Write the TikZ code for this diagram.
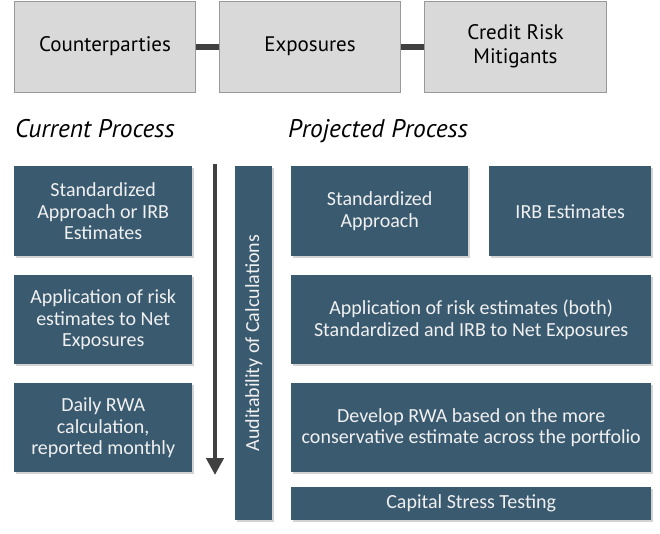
\documentclass[tikz,border=0pt]{standalone}
\usepackage{fontspec}
\setmainfont{Carlito}
\newfontfamily\headfont{PT Sans}
\usetikzlibrary{shadows,arrows.meta}

\definecolor{slate}{RGB}{58,90,112}
\definecolor{boxgray}{RGB}{217,217,217}
\definecolor{darkline}{RGB}{64,64,64}

\tikzset{
	topbox/.style={draw=gray!80,fill=boxgray,line width=1pt,anchor=north west,align=center,inner sep=0pt,font=\headfont\fontsize{21}{24}\selectfont},
	bluebox/.style={fill=slate,text=white!94!black,anchor=north west,align=center,inner sep=0pt,font=\fontsize{20}{21.5}\selectfont,
		drop shadow={shadow xshift=1.5pt,shadow yshift=-1.5pt,opacity=0.35}},
	heading/.style={anchor=base west,inner sep=0pt,font=\headfont\itshape\fontsize{25.5}{28}\selectfont},
	link/.style={darkline,line width=6pt},
	flow/.style={darkline,line width=4.5pt,-{Triangle[length=17pt,width=17pt]}}
}

\begin{document}
\begin{tikzpicture}[x=1pt,y=-1pt]
	\useasboundingbox (0,0) rectangle (660,533);

	\node[topbox,minimum width=181pt,minimum height=91pt] (cp) at (14,0.5)	{Counterparties};
	\node[topbox,minimum width=181pt,minimum height=91pt] (ex) at (219,0.5)	{Exposures};
	\node[topbox,minimum width=182pt,minimum height=91pt] (crm) at (424,0.5)	{Credit Risk\\Mitigants};
	\draw[link] (cp) -- (ex);
	\draw[link] (ex) -- (crm);

	\node[heading] (cur) at (15,137)	{Current Process};
	\node[heading] (proj) at (288,137)	{Projected Process};

	\node[bluebox,minimum width=178pt,minimum height=90pt] (sa) at (14,166)	{Standardized\\Approach or IRB\\Estimates};
	\node[bluebox,minimum width=178pt,minimum height=89pt] (app) at (14,275)	{Application of risk\\estimates to Net\\Exposures};
	\node[bluebox,minimum width=178pt,minimum height=89pt] (rwa) at (14,383)	{Daily RWA\\calculation,\\reported monthly};

	\coordinate (start) at (215,164);
	\coordinate (end) at (215,475);
	\draw[flow] (start) -- (end);

	\node[bluebox,minimum width=37pt,minimum height=354pt] (aud) at (235,166) {};
	\node[rotate=90,text=white!94!black,font=\fontsize{20}{21.5}\selectfont] (audtext) at (aud.center) {Auditability of Calculations};

	\node[bluebox,minimum width=177pt,minimum height=90pt] (psa) at (291,166)	{Standardized\\Approach};
	\node[bluebox,minimum width=162pt,minimum height=90pt] (irb) at (489,166)	{IRB Estimates};
	\node[bluebox,minimum width=360pt,minimum height=89pt] (papp) at (291,275)	{Application of risk estimates (both)\\Standardized and IRB to Net Exposures};
	\node[bluebox,minimum width=360pt,minimum height=89pt] (dev) at (291,383)	{Develop RWA based on the more\\conservative estimate across the portfolio};
	\node[bluebox,minimum width=360pt,minimum height=33pt] (cst) at (291,487)	{Capital Stress Testing};
\end{tikzpicture}
\end{document}
